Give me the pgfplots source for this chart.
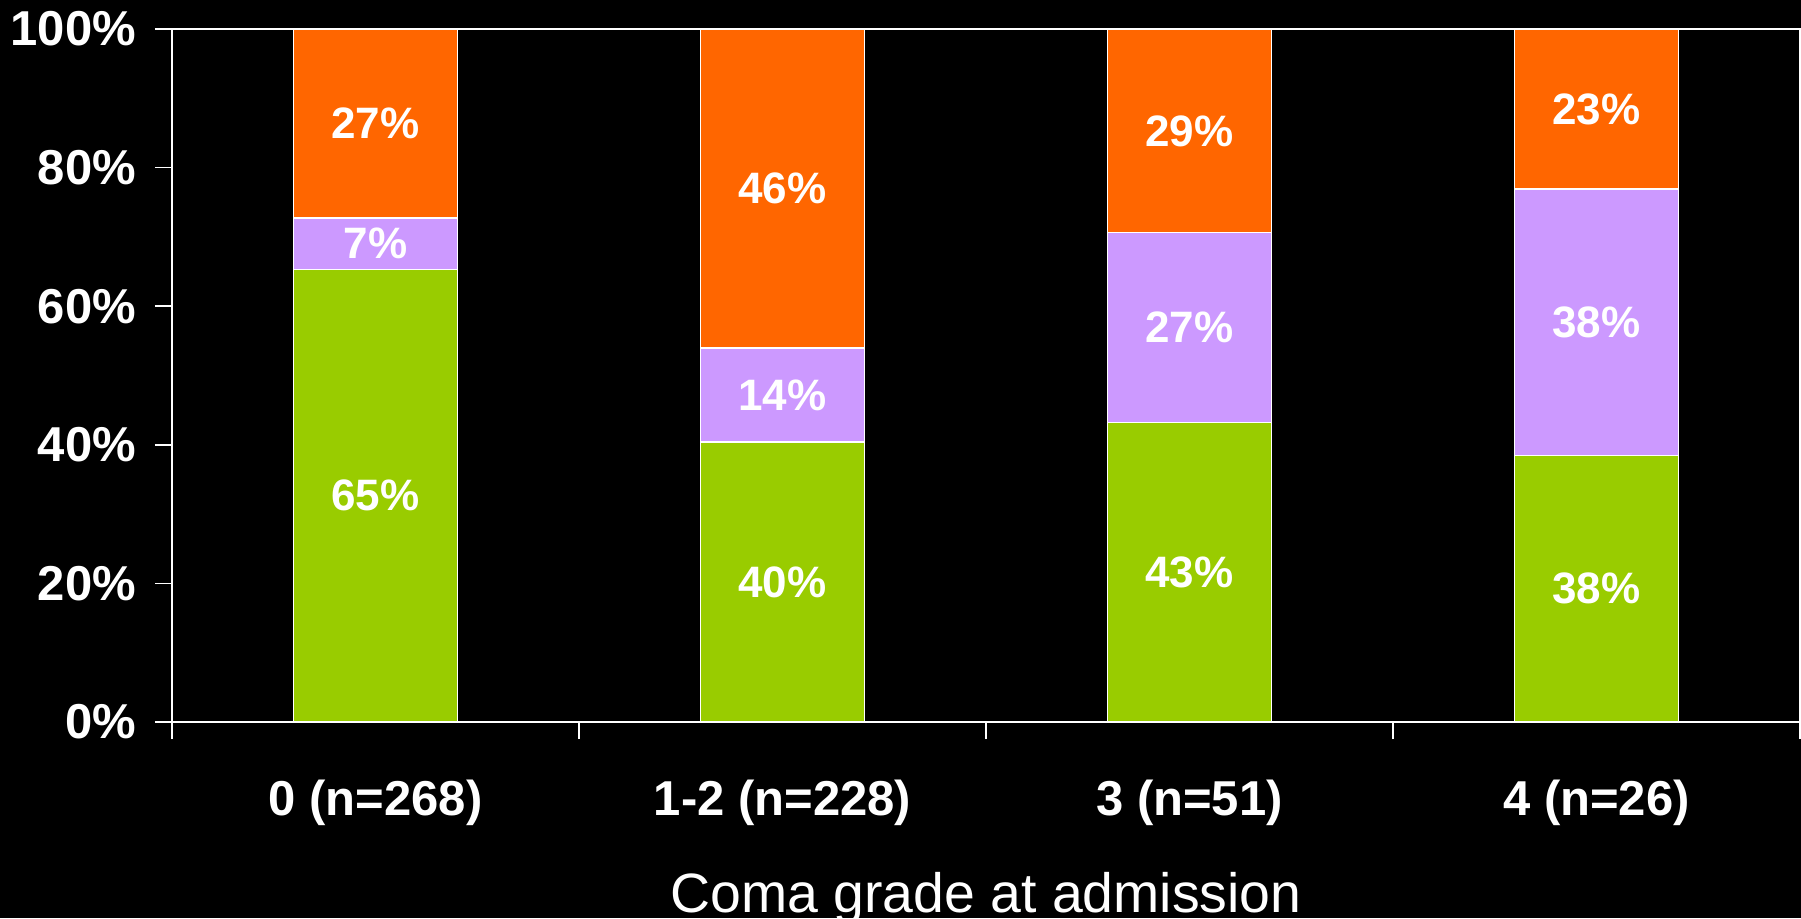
\documentclass[border=0pt]{standalone}
\usepackage{fontspec}
\setmainfont{Liberation Sans}
\usepackage{pgfplots}
\usepackage{pgfplotstable}
\pgfplotsset{compat=1.18}

\definecolor{good}{HTML}{99CC00}
\definecolor{mid}{HTML}{CC99FF}
\definecolor{poor}{HTML}{FF6600}

% outcome shares (%) per admission coma grade: good, intermediate, poor
\pgfplotstableread{
x  g      p      o
1  65.3   7.4    27.3
2  40.4   13.6   46.0
3  43.2   27.4   29.4
4  38.46  38.46  23.08
}\outcomes

\pgfplotsset{
  frame/.style={
    at={(0,0)}, anchor=south west,
    scale only axis, width=814pt, height=346.5pt,
    xmin=0.5, xmax=4.5, ymin=0, ymax=100,
  },
}

\begin{document}
\begin{tikzpicture}
% black canvas that also fixes the page size
\path[use as bounding box, fill=black] (-86pt,-98pt) rectangle (814.5pt,361pt);
\begin{axis}[
  frame,
  ybar stacked, bar width=82pt,
  axis line style={white, line width=0.8pt},
  tick style={white, line width=0.8pt},
  tick align=outside, major tick length=8.5pt,
  xtick pos=bottom, ytick pos=left,
  xtick={0.5,1.5,2.5,3.5,4.5}, xticklabels={},
  extra x ticks={1,2,3,4},
  extra x tick labels={{0 (n=268)},{1-2 (n=228)},{3 (n=51)},{4 (n=26)}},
  extra x tick style={major tick length=0pt,
    tick label style={anchor=base, yshift=-46.5pt}},
  ytick={0,20,40,60,80,100},
  yticklabel={\pgfmathprintnumber{\tick}\%},
  yticklabel style={xshift=-6pt},
  /pgf/number format/assume math mode=true,
  tick label style={text=white, font=\bfseries\fontsize{24.5}{28}\selectfont},
  xlabel={Coma grade at admission},
  xlabel style={at={(axis description cs:0.5,0)}, anchor=base, yshift=-95pt,
    text=white, font=\fontsize{27.7}{32}\selectfont},
  every axis plot/.append style={draw=white, line width=0.75pt},
]
\addplot[fill=good] table[x=x, y=g] {\outcomes};
\addplot[fill=mid]  table[x=x, y=p] {\outcomes};
\addplot[fill=poor] table[x=x, y=o] {\outcomes};
\end{axis}
% value labels, centred in each segment
\begin{axis}[
  frame, hide axis,
  nodes near coords={\pgfmathprintnumber[fixed,precision=0]{\pgfplotspointmeta}\%},
  nodes near coords align={center},
  every node near coord/.append style={anchor=center, text=white,
    font=\bfseries\fontsize{22}{26}\selectfont},
  /pgf/number format/assume math mode=true,
  point meta=explicit,
]
\addplot[draw=none, mark=none] table[x=x, y expr=\thisrow{g}/2, meta=g] {\outcomes};
\addplot[draw=none, mark=none] table[x=x, y expr=\thisrow{g}+\thisrow{p}/2, meta=p] {\outcomes};
\addplot[draw=none, mark=none] table[x=x, y expr=\thisrow{g}+\thisrow{p}+\thisrow{o}/2, meta=o] {\outcomes};
\end{axis}
\end{tikzpicture}
\end{document}
